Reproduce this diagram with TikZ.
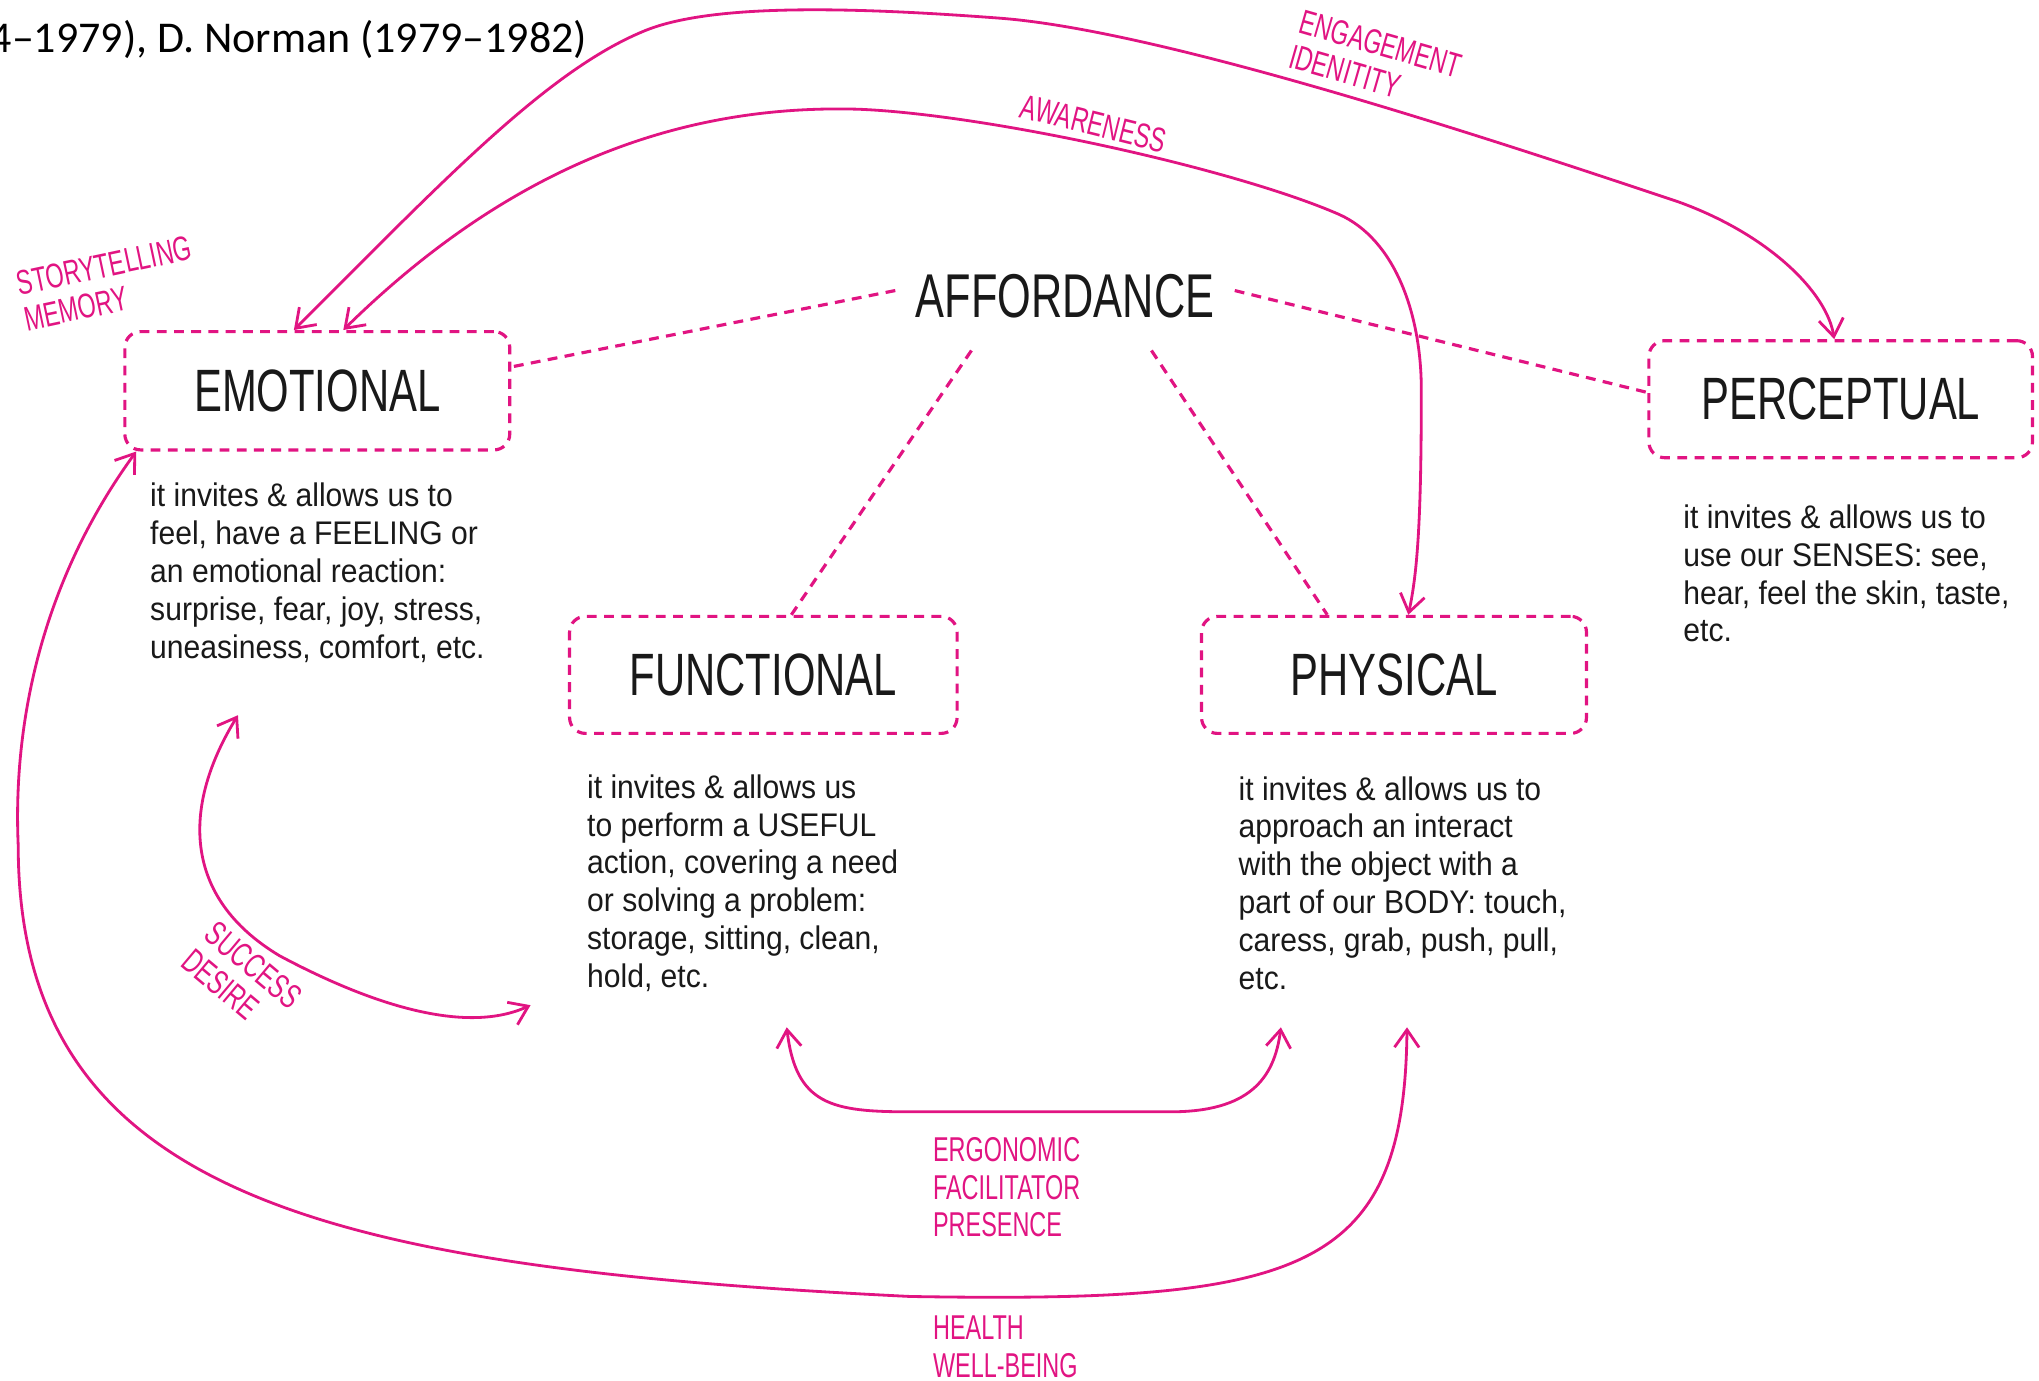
\documentclass[tikz,border=0pt]{standalone}
\usepackage{fontspec}
\setmainfont{Liberation Sans}
\newfontfamily\headfont{Liberation Sans}[FakeStretch=0.70]
\newfontfamily\bodyfont{Liberation Sans}[FakeStretch=0.92]
\newfontfamily\pinkfont{Liberation Sans}[FakeStretch=0.68]
\newfontfamily\calfont{Carlito}
\usetikzlibrary{arrows.meta,calc}
\definecolor{affpink}{RGB}{225,20,130}
\definecolor{txt}{RGB}{25,25,25}
\tikzset{
  box/.style={draw=affpink, line width=0.9pt, dash pattern=on 2.8pt off 2.1pt,
    rounded corners=4.5pt, minimum width=3.848cm, minimum height=1.17cm,
    inner sep=0pt, text=txt, font=\headfont\fontsize{17}{20}\selectfont},
  affnode/.style={minimum width=3.38cm, minimum height=1.066cm, inner sep=0pt,
    text=txt, font=\headfont\fontsize{17.6}{21}\selectfont},
  body/.style={anchor=west, align=left, inner sep=0pt, text=txt,
    font=\bodyfont\fontsize{9.3}{10.75}\selectfont},
  lbl/.style={text=affpink, align=left, inner sep=0pt,
    font=\pinkfont\fontsize{9.8}{10.3}\selectfont},
  dline/.style={draw=affpink, line width=0.9pt, dash pattern=on 2.8pt off 2.1pt},
  curve/.style={draw=affpink, line width=0.8pt,
    {Straight Barb[length=5pt,width=7pt]}-{Straight Barb[length=5pt,width=7pt]}}
}
\begin{document}
\begin{tikzpicture}[x=0.013cm,y=-0.013cm]
\useasboundingbox (0,0) rectangle (1568,1062);
\clip (0,0) rectangle (1568,1062);

% citation line (cut at the left edge)
\node[anchor=east, inner sep=0pt, text=black, font=\calfont\fontsize{12.5}{15}\selectfont] (cite) at (452,30) {4–1979), D. Norman (1979–1982)};

% boxes
\node[box, minimum height=1.183cm] (emo) at (244,300.5) {EMOTIONAL};
\node[box, minimum width=3.874cm] (func) at (587,519) {FUNCTIONAL};
\node[box] (phys) at (1072,519) {PHYSICAL};
\node[box, minimum width=3.835cm] (perc) at (1415.5,307) {PERCEPTUAL};
\node[affnode] (aff) at (819,228) {AFFORDANCE};

% descriptions
\node[body] (emotxt) at (115,440.5) {it invites \& allows us to\\feel, have a FEELING or\\an emotional reaction:\\surprise, fear, joy, stress,\\uneasiness, comfort, etc.};
\node[body] (functxt) at (451,679) {it invites \& allows us\\to perform a USEFUL\\action, covering a need\\or solving a problem:\\storage, sitting, clean,\\hold, etc.};
\node[body] (phystxt) at (952,679) {it invites \& allows us to\\approach an interact\\with the object with a\\part of our BODY: touch,\\caress, grab, push, pull,\\etc.};
\node[body] (perctxt) at (1294,441) {it invites \& allows us to\\use our SENSES: see,\\hear, feel the skin, taste,\\etc.};

% pink labels
\node[lbl, rotate=12] (story) at (83,218) {STORYTELLING\\MEMORY};
\node[lbl, rotate=-16] (engage) at (1058,47) {ENGAGEMENT\\IDENITITY};
\node[lbl, rotate=-14] (aware) at (841,95) {AWARENESS};
\node[lbl, rotate=-40] (succ) at (186,753) {SUCCESS\\DESIRE};
\node[lbl, anchor=west, font=\pinkfont\fontsize{9.8}{10.75}\selectfont] (ergo) at (717,913) {ERGONOMIC\\FACILITATOR\\PRESENCE};
\node[lbl, anchor=west, font=\pinkfont\fontsize{9.8}{10.75}\selectfont] (health) at (717,1036) {HEALTH\\WELL-BEING};

% dashed links from AFFORDANCE
\draw[dline] (aff.178) -- (emo.7.5);
\draw[dline] (aff.2) -- (perc.178.4);
\draw[dline] (aff.-150) -- (func.65);
\draw[dline] (aff.-32) -- (phys.138);

% endpoints of curved arrows
\coordinate (e1) at ($(emo.north)+(-18,0)$);
\coordinate (e2) at ($(emo.north)+(20,0)$);
\coordinate (e3) at ($(emo.south west)+(10,0)$);
\coordinate (p1) at ($(perc.north)+(-5,0)$);
\coordinate (h1) at ($(phys.north)+(11,0)$);
\coordinate (s1) at (183,550);
\coordinate (s2) at (408,773);
\coordinate (g1) at (605,790);
\coordinate (g2) at (985,790);
\coordinate (h2) at (1082,790);

% engagement / identity
\draw[curve] (e1) .. controls (340,140) and (420,55) .. (495,24)
  .. controls (545,3) and (650,5) .. (769,14)
  .. controls (900,24) and (1170,115) .. (1290,155)
  .. controls (1360,180) and (1405,225) .. (p1);
% awareness
\draw[curve] (e2) .. controls (390,130) and (520,80) .. (660,84)
  .. controls (760,88) and (950,130) .. (1030,165)
  .. controls (1072,184) and (1093,240) .. (1093,300)
  .. controls (1093,400) and (1090,440) .. (h1);
% success / desire
\draw[curve] (s1) .. controls (140,620) and (140,690) .. (215,735)
  .. controls (290,775) and (360,795) .. (s2);
% ergonomic
\draw[curve] (g1) .. controls (612,850) and (640,855) .. (700,855) -- (900,855)
  .. controls (960,855) and (980,830) .. (g2);
% health
\draw[curve] (e3) .. controls (30,450) and (10,560) .. (14,650)
  .. controls (14,920) and (250,975) .. (700,997)
  .. controls (1000,1002) and (1080,980) .. (h2);
\end{tikzpicture}
\end{document}
